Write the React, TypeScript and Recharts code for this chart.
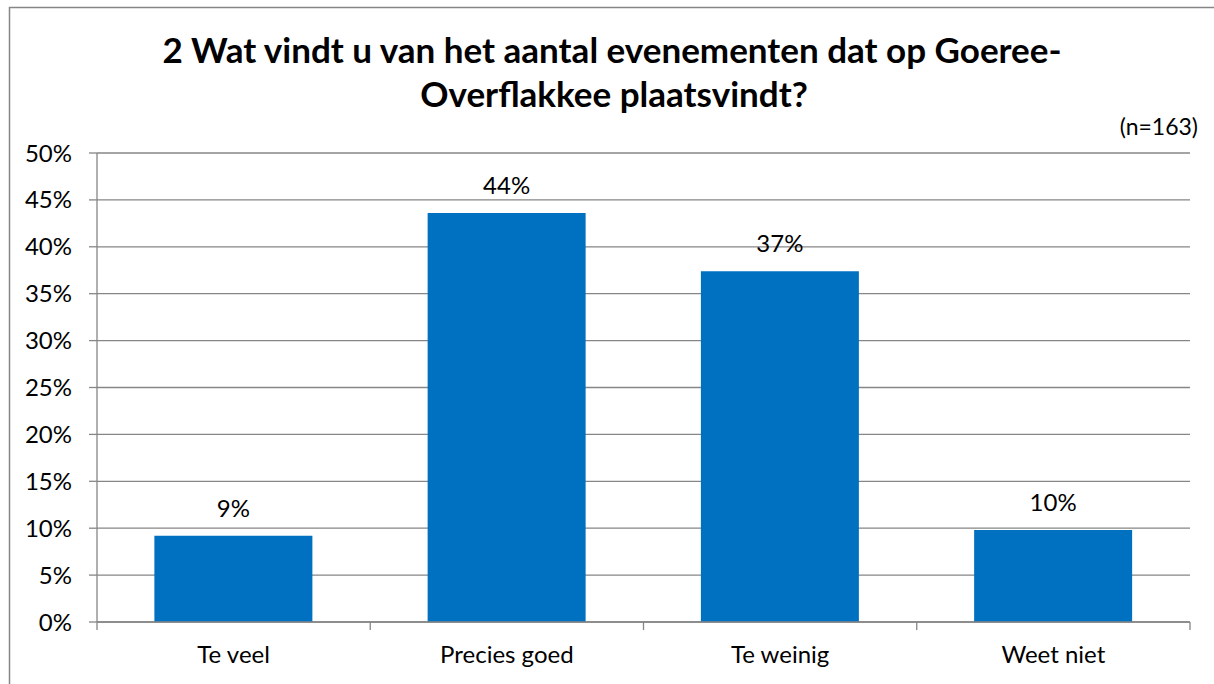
import React from 'react';
import { BarChart, Bar, XAxis, YAxis, CartesianGrid, LabelList } from 'recharts';

const categories = ['Te veel', 'Precies goed', 'Te weinig', 'Weet niet'];
const percentages = [9.2, 43.6, 37.4, 9.8];
const yTicks = [0, 5, 10, 15, 20, 25, 30, 35, 40, 45, 50];
const titleLines = ['2 Wat vindt u van het aantal evenementen dat op Goeree-', 'Overflakkee plaatsvindt?'];
const sampleNote = '(n=163)';

const data = categories.map((name, i) => ({ name, value: percentages[i] }));

const FONT = 'Lato, "Open Sans", sans-serif';
const GRID = '#868686';

function XTick(props: any) {
  const { x, y, payload, index, visibleTicksCount } = props;
  const half = typeof payload?.offset === 'number' ? payload.offset : 0;
  const axisY = y - 8;
  const isLast = index === (visibleTicksCount ?? 4) - 1;
  return (
    <g>
      <line x1={x - half} x2={x - half} y1={axisY} y2={axisY + 8} stroke={GRID} strokeWidth={1.3} />
      {isLast && <line x1={x + half} x2={x + half} y1={axisY} y2={axisY + 8} stroke={GRID} strokeWidth={1.3} />}
      <text x={x} y={y + 33} textAnchor="middle" fill="#000" fontSize={24} fontFamily={FONT}>
        {payload.value}
      </text>
    </g>
  );
}

export default function App() {
  return (
    <div style={{ position: 'absolute', left: 0, top: 0, width: 1214, height: 684, background: '#fff', overflow: 'hidden' }}>
      <BarChart
        width={1214}
        height={684}
        data={data}
        margin={{ top: 153, right: 24, bottom: 22, left: 37 }}
        barCategoryGap="21%"
      >
        <CartesianGrid horizontal vertical={false} stroke={GRID} strokeWidth={1.3} />
        <XAxis
          dataKey="name"
          height={40}
          tickLine={false}
          tickSize={8}
          tickMargin={0}
          axisLine={{ stroke: GRID, strokeWidth: 1.3 }}
          tick={<XTick />}
          interval={0}
        />
        <YAxis
          width={60}
          domain={[0, 50]}
          ticks={yTicks}
          interval={0}
          tickFormatter={(v: number) => `${v}%`}
          tickSize={8}
          tickMargin={17}
          axisLine={{ stroke: GRID, strokeWidth: 1.3 }}
          tickLine={{ stroke: GRID, strokeWidth: 1.3 }}
          tick={{ fill: '#000', fontSize: 24, fontFamily: FONT }}
        />
        <Bar dataKey="value" fill="#0070C0" isAnimationActive={false}>
          <LabelList
            dataKey="value"
            position="top"
            offset={19}
            formatter={(v: any) => `${Math.round(Number(v))}%`}
            fill="#000"
            fontSize={24}
            fontFamily={FONT}
          />
        </Bar>
      </BarChart>
      <svg width={1214} height={684} style={{ position: 'absolute', left: 0, top: 0, pointerEvents: 'none' }}>
        <path d="M9.5 684 L9.5 7.5 L1214 7.5" fill="none" stroke={GRID} strokeWidth={1.5} />
        <text x={612} y={63} textAnchor="middle" fontFamily={FONT} fontWeight={700} fontSize={35} fill="#000">
          {titleLines[0]}
        </text>
        <text x={614} y={107} textAnchor="middle" fontFamily={FONT} fontWeight={700} fontSize={35} fill="#000">
          {titleLines[1]}
        </text>
        <text x={1198} y={135} textAnchor="end" fontFamily={FONT} fontSize={23} fill="#000">
          {sampleNote}
        </text>
      </svg>
    </div>
  );
}
